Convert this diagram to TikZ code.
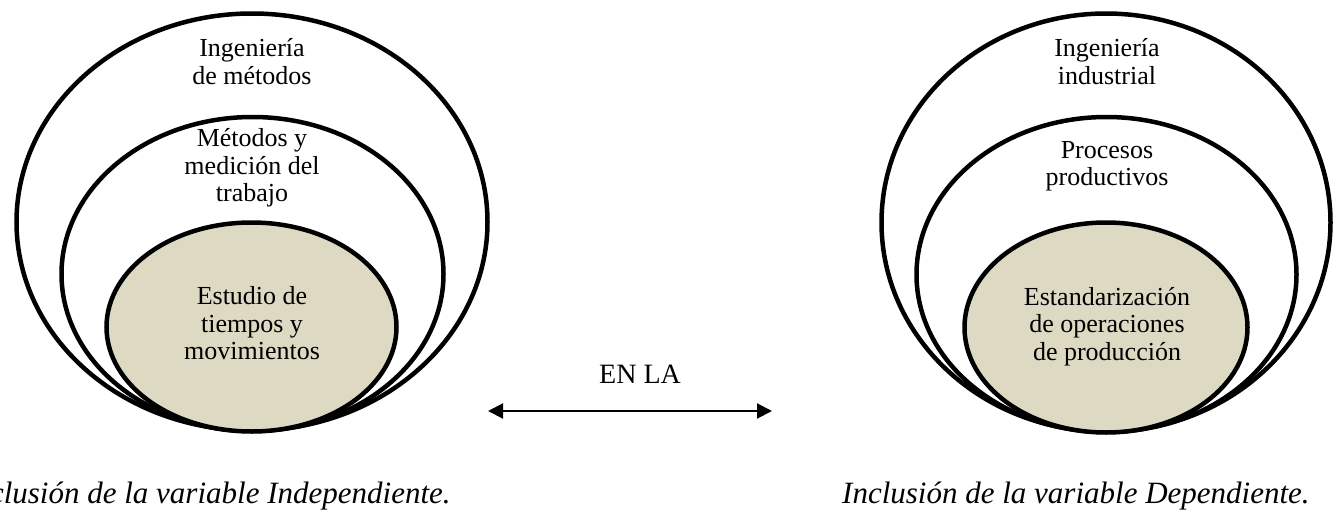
\documentclass[tikz,border=0pt]{standalone}
\usepackage{fontspec}
\setmainfont{Liberation Serif}
\usetikzlibrary{shapes.geometric,arrows.meta}

\definecolor{tanfill}{HTML}{DDD9C3}

\tikzset{
  ring/.style={ellipse, draw=black, line width=4.5pt, inner sep=0pt, outer sep=0pt},
  corering/.style={ring, fill=tanfill},
  label/.style={align=center, inner sep=0pt, font=\fontsize{26}{27.5}\selectfont},
  caption/.style={inner sep=0pt, anchor=base west,
                  font=\fontsize{31}{33}\selectfont\itshape},
  link/.style={line width=2pt, {Triangle[length=15pt,width=15pt]}-{Triangle[length=15pt,width=15pt]}}
}

\begin{document}
\begin{tikzpicture}[x=1pt,y=-1pt]
  \useasboundingbox (0,0) rectangle (1334,522);
  \clip (0,0) rectangle (1334,522);

  % independent variable: nested scopes
  \node[ring, minimum width=471pt, minimum height=417pt] (outerL) at (252,222) {};
  \node[ring, minimum width=382pt, minimum height=314pt] (midL) at (252.5,274) {};
  \node[corering, minimum width=290pt, minimum height=209pt] (coreL) at (251.5,327) {};

  \node[label] (tOuterL) at (252,61.5) {Ingeniería\\de métodos};
  \node[label] (tMidL) at (252,168) {Métodos y\\medición del\\trabajo};
  \node[label] (tCoreL) at (252,323.5) {Estudio de\\tiempos y\\movimientos};

  % dependent variable: nested scopes
  \node[ring, minimum width=449pt, minimum height=418pt] (outerR) at (1106,222.5) {};
  \node[ring, minimum width=380pt, minimum height=315pt] (midR) at (1106.5,274.5) {};
  \node[corering, minimum width=283pt, minimum height=210pt] (coreR) at (1106,327.5) {};

  \node[label] (tOuterR) at (1107,61.5) {Ingeniería\\industrial};
  \node[label] (tMidR) at (1107,166.5) {Procesos\\productivos};
  \node[label] (tCoreR) at (1107,326.5) {Estandarización\\de operaciones\\de producción};

  % link between the two
  \node[inner sep=0pt, font=\fontsize{28}{30}\selectfont] (enla) at (640,374) {EN LA};
  \coordinate (arrL) at (488,411);
  \coordinate (arrR) at (772,411);
  \draw[link] (arrL) -- (arrR);

  % captions
  \node[caption] (capL) at (-36,503) {Inclusión de la variable Independiente.};
  \node[caption] (capR) at (842,503) {Inclusión de la variable Dependiente.};
\end{tikzpicture}
\end{document}
